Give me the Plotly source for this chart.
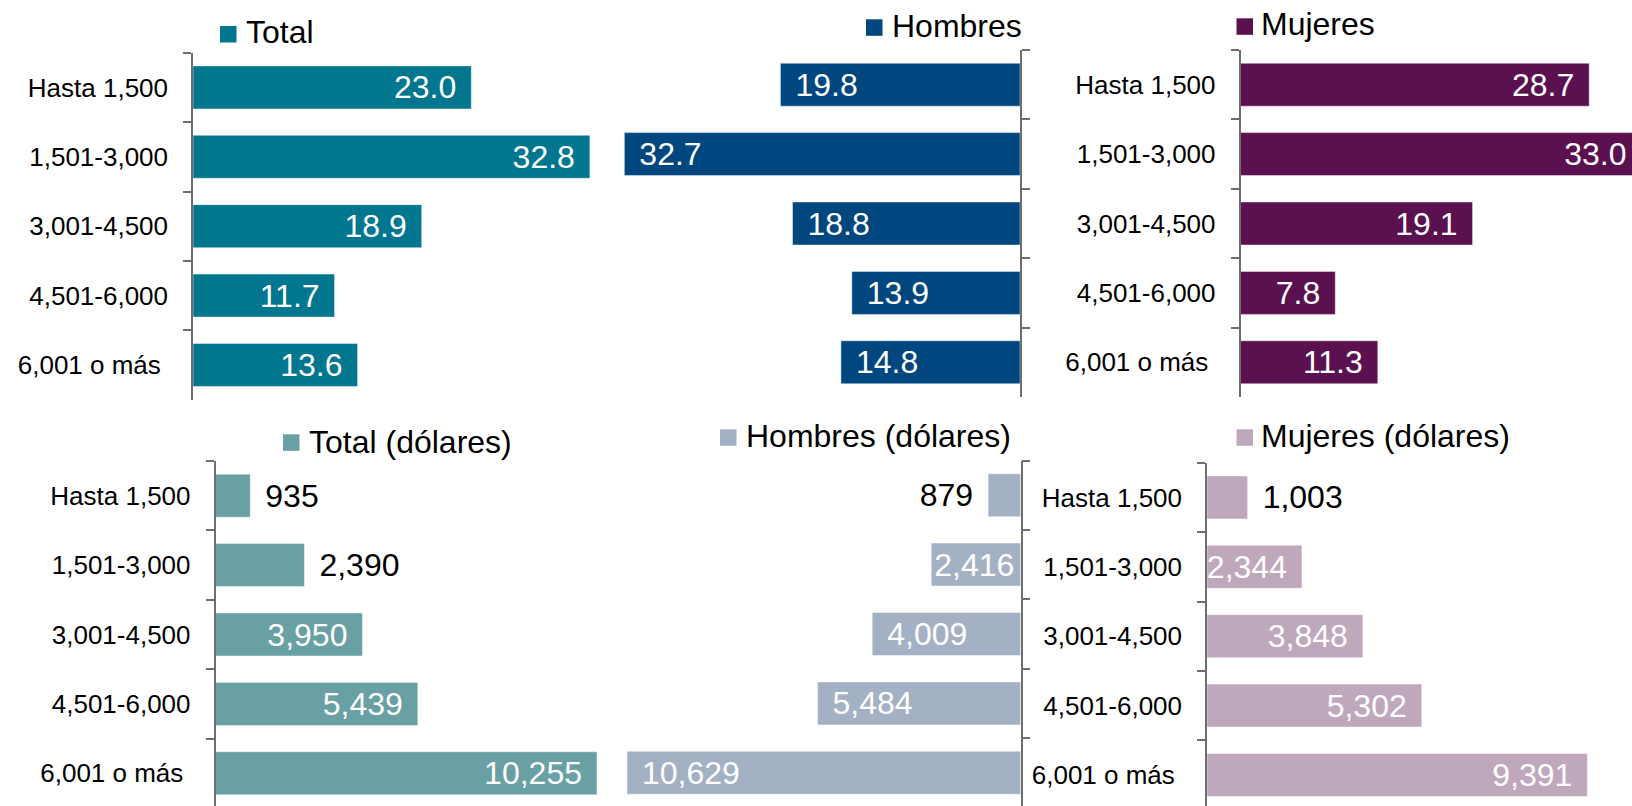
import plotly.graph_objects as go

# Income brackets (last label carries a trailing no-break space, as printed)
categories = ["Hasta 1,500", "1,501-3,000", "3,001-4,500", "4,501-6,000", "6,001 o más\u00a0"]

# Share of households per bracket (%)
total_pct = [23.0, 32.8, 18.9, 11.7, 13.6]
hombres_pct = [19.8, 32.7, 18.8, 13.9, 14.8]
mujeres_pct = [28.7, 33.0, 19.1, 7.8, 11.3]

# Average income per bracket (dollars)
total_usd = [935, 2390, 3950, 5439, 10255]
hombres_usd = [879, 2416, 4009, 5484, 10629]
mujeres_usd = [1003, 2344, 3848, 5302, 9391]

W, H = 1632, 806
FONT = "Liberation Sans, Arial, sans-serif"
AXIS_GREY = "#6e6e6e"
BAND = 69.4
VALUE_SIZE = 32
PAD = "<span style='font-size:24px'>\u2002</span>"


def fx(p):
    return p / W


def fy(p):
    return 1 - p / H


panels = [
    dict(values=total_pct, fmt="{:.1f}", color="#00778F", name="Total", reverse=False,
         xdom=(193, 610), scale=12.1, ytop=52.7, modes=["in"] * 5,
         sq=(220, 26), txt=(245, 32.5)),
    dict(values=hombres_pct, fmt="{:.1f}", color="#00467F", name="Hombres", reverse=True,
         xdom=(615, 1020), scale=12.1, ytop=50, modes=["in"] * 5,
         sq=(866, 19.3), txt=(891, 25.5)),
    dict(values=mujeres_pct, fmt="{:.1f}", color="#5B1050", name="Mujeres", reverse=False,
         xdom=(1240.5, 1632), scale=12.15, ytop=50, modes=["in"] * 5,
         sq=(1236.5, 18.3), txt=(1259.5, 23.8)),
    dict(values=total_usd, fmt="{:,}", color="#69A0A3", name="Total (dólares)", reverse=False,
         xdom=(215.5, 612), scale=0.0372, ytop=461, modes=["out", "out", "in", "in", "in"],
         sq=(283, 434.3), txt=(307.5, 442)),
    dict(values=hombres_usd, fmt="{:,}", color="#A4B1C5", name="Hombres (dólares)", reverse=True,
         xdom=(620, 1020.7), scale=0.03704, ytop=460.5, modes=["out", "tight", "in", "in", "in"],
         sq=(720, 429.3), txt=(744.5, 435.8)),
    dict(values=mujeres_usd, fmt="{:,}", color="#BFA8BC", name="Mujeres (dólares)", reverse=False,
         xdom=(1207, 1632), scale=0.0405, ytop=462.7, modes=["out", "in", "in", "in", "in"],
         sq=(1236.5, 429.3), txt=(1259.5, 435.8)),
]

fig = go.Figure()
shapes, annotations = [], []

for i, p in enumerate(panels, start=1):
    xa = "x" if i == 1 else f"x{i}"
    ya = "y" if i == 1 else f"y{i}"

    texts, positions, colors = [], [], []
    for v, mode in zip(p["values"], p["modes"]):
        label = p["fmt"].format(v)
        if mode == "in":
            texts.append(PAD + label if p["reverse"] else label + PAD)
            positions.append("inside")
            colors.append("white")
        elif mode == "tight":
            texts.append(label)
            positions.append("inside")
            colors.append("white")
        else:
            texts.append(label + PAD if p["reverse"] else PAD + label)
            positions.append("outside")
            colors.append("black")

    fig.add_trace(go.Bar(
        x=p["values"], y=categories, orientation="h",
        xaxis=xa, yaxis=ya, name=p["name"], showlegend=False,
        marker=dict(color=p["color"], line=dict(color="rgba(255,255,255,0.45)", width=1)),
        text=texts, textposition=positions, insidetextanchor="end",
        constraintext="none", textangle=0,
        textfont=dict(family=FONT, size=VALUE_SIZE, color=colors),
        hoverinfo="skip",
    ))

    x0, x1 = p["xdom"]
    span = (x1 - x0) / p["scale"]
    xrange = [span, 0] if p["reverse"] else [0, span]
    ybottom = min(p["ytop"] + 5 * BAND, H)
    nbands = (ybottom - p["ytop"]) / BAND

    key = i if i > 1 else ""
    fig.update_layout({
        f"xaxis{key}": dict(domain=[fx(x0), fx(x1)], range=xrange, visible=False,
                            anchor=ya, fixedrange=True),
        f"yaxis{key}": dict(domain=[fy(ybottom), fy(p["ytop"])], anchor=xa,
                            type="category", categoryorder="array", categoryarray=categories,
                            range=[-0.5 + nbands, -0.5],
                            side="right" if p["reverse"] else "left",
                            showline=True, linecolor=AXIS_GREY, linewidth=1.5,
                            ticks="outside", ticklen=8, tickwidth=1.5, tickcolor=AXIS_GREY,
                            tickson="boundaries", showgrid=False, zeroline=False,
                            showticklabels=not p["reverse"], ticklabelstandoff=18,
                            tickfont=dict(family=FONT, size=26, color="black"),
                            fixedrange=True),
    })

    # legend key: coloured square plus series name
    sx, sy = p["sq"]
    shapes.append(dict(type="rect", xref="paper", yref="paper",
                       x0=fx(sx), x1=fx(sx + 16.5), y0=fy(sy + 16.5), y1=fy(sy),
                       fillcolor=p["color"], line=dict(width=0)))
    tx, ty = p["txt"]
    annotations.append(dict(text=p["name"], xref="paper", yref="paper",
                            x=fx(tx), y=fy(ty), xanchor="left", yanchor="middle",
                            showarrow=False, borderpad=0,
                            font=dict(family=FONT, size=32, color="black")))

fig.update_layout(
    width=W, height=H, margin=dict(l=0, r=0, t=0, b=0),
    paper_bgcolor="white", plot_bgcolor="rgba(0,0,0,0)",
    bargap=0.38, showlegend=False,
    shapes=shapes, annotations=annotations,
    font=dict(family=FONT, color="black"),
)

fig.write_html("out.html", config={"displayModeBar": False})
